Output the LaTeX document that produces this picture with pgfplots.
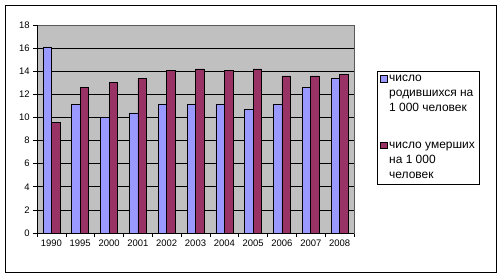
\documentclass[border=0pt]{standalone}
\usepackage{fontspec}
\setmainfont{Liberation Sans}
\usepackage{pgfplots}
\pgfplotsset{compat=1.18}
\definecolor{barblue}{HTML}{9999FF}
\definecolor{barred}{HTML}{993366}
\definecolor{plotgray}{HTML}{C0C0C0}
\begin{document}
\fontsize{9.5}{11.5}\selectfont
\begin{tikzpicture}[x=1bp,y=1bp]
\useasboundingbox (-37,-45) rectangle (466,233);
\draw[line width=0.8bp] (-32,-39) rectangle (459,228);
\begin{axis}[
  at={(0,0)}, anchor=south west,
  width=317bp, height=208bp, scale only axis,
  ybar=0pt, bar width=8.5bp,
  xmin=-0.5, xmax=10.5, ymin=0, ymax=18,
  xtick={0,...,10},
  xticklabels={1990,1995,2000,2001,2002,2003,2004,2005,2006,2007,2008},
  major x tick style={draw=none},
  minor xtick={-0.5,0.5,...,10.5},
  ytick={0,2,...,18},
  xtick pos=bottom, ytick pos=left,
  tick align=outside, major tick length=4bp, minor tick length=4bp,
  tick style={black, line width=0.6bp},
  ymajorgrids, major grid style={black, line width=0.7bp},
  axis background/.style={fill=plotgray},
  axis line style={draw=gray!70!black, line width=0.6bp},
  /pgf/number format/assume math mode=true,
  ticklabel style={font=\fontsize{9.5}{11.5}\selectfont},
  legend style={at={(axis description cs:1.0726,0.778)}, anchor=north west,
    draw=black, fill=white, line width=0.6bp,
    font=\fontsize{12}{15}\selectfont,
    nodes={align=left, anchor=base west},
    row sep=25bp, inner xsep=3bp, inner ysep=2bp},
  legend cell align=left,
  legend image code/.code={\draw[#1,draw=black,line width=0.4bp] (1bp,30bp) rectangle (7.5bp,36.5bp);},
]
\addplot[fill=barblue, draw=black, line width=0.6bp] coordinates {
 (0,16.1) (1,11.1) (2,10.0) (3,10.4) (4,11.1) (5,11.1) (6,11.1) (7,10.7) (8,11.1) (9,12.6) (10,13.4)};
\addlegendentry{число\\родившихся на\\1 000 человек}
\addplot[fill=barred, draw=black, line width=0.6bp] coordinates {
 (0,9.6) (1,12.6) (2,13.0) (3,13.4) (4,14.1) (5,14.2) (6,14.1) (7,14.2) (8,13.6) (9,13.6) (10,13.7)};
\addlegendentry{число умерших\\на 1 000\\человек}
\draw[black, line width=0.6bp] (rel axis cs:0,1) -- (rel axis cs:0,0) -- (rel axis cs:1,0);
\end{axis}
\end{tikzpicture}
\end{document}
